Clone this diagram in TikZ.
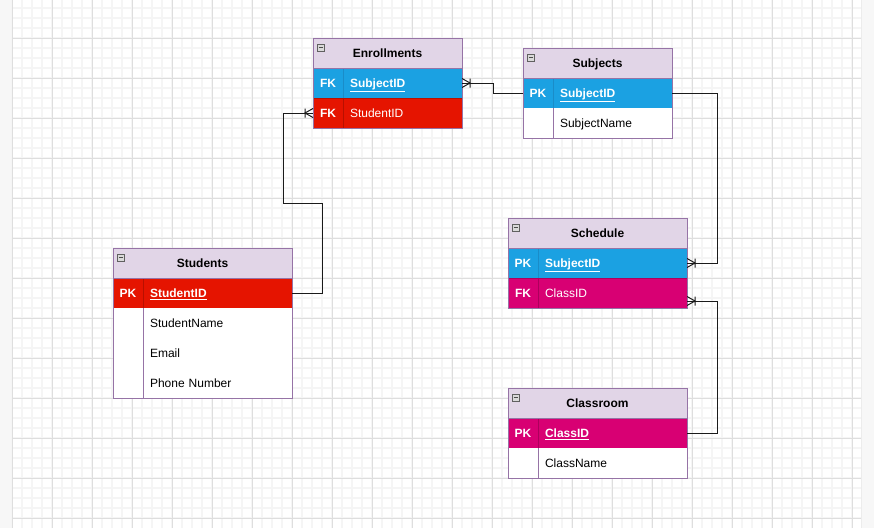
\documentclass[tikz,border=0pt]{standalone}
\usepackage{fontspec}
\setmainfont{Liberation Sans}
\usetikzlibrary{arrows.meta}
\definecolor{hdrfill}{HTML}{E1D5E7}
\definecolor{bdr}{HTML}{9673A6}
\definecolor{blueF}{HTML}{1BA1E2}
\definecolor{blueD}{HTML}{1A8CC8}
\definecolor{redF}{HTML}{E51400}
\definecolor{redD}{HTML}{B81000}
\definecolor{magF}{HTML}{D80073}
\definecolor{magD}{HTML}{AD005C}
\definecolor{gridminor}{HTML}{F5F5F5}
\definecolor{gridmajor}{HTML}{DEDEDE}
\definecolor{outside}{HTML}{F7F7F7}
\definecolor{linec}{HTML}{1A1A1A}
\pgfdeclarearrow{
  name = CrowBar,
  setup code = {
    \pgfarrowssettipend{0pt}
    \pgfarrowssetlineend{0pt}
    \pgfarrowssetbackend{-9pt}
    \pgfarrowssetvisualbackend{-9pt}
    \pgfarrowshullpoint{0pt}{5pt}
    \pgfarrowshullpoint{0pt}{-5pt}
    \pgfarrowshullpoint{-9pt}{0pt}
  },
  drawing code = {
    \pgfsetdash{}{0pt}
    \pgfpathmoveto{\pgfpoint{0pt}{4.5pt}}
    \pgfpathlineto{\pgfpoint{-8pt}{0pt}}
    \pgfpathlineto{\pgfpoint{0pt}{-4.5pt}}
    \pgfpathmoveto{\pgfpoint{-8pt}{4.5pt}}
    \pgfpathlineto{\pgfpoint{-8pt}{-4.5pt}}
    \pgfusepathqstroke
  }
}
\tikzset{
  cell/.style={rectangle, anchor=north west, minimum height=30pt, inner sep=0pt, outer sep=0pt, line width=1pt, text height=8.6pt, text depth=0pt, font=\fontsize{12}{14}\selectfont},
  hdr/.style={cell, draw=bdr, fill=hdrfill, font=\fontsize{12}{14}\selectfont\bfseries},
  keyc/.style={cell, minimum width=30pt, font=\fontsize{12}{14}\selectfont\bfseries},
  namec/.style={cell, inner xsep=7pt, text width=#1, align=left},
  bluerow/.style={fill=blueF, draw=blueD, text=white},
  redrow/.style={fill=redF, draw=redD, text=white},
  magrow/.style={fill=magF, draw=magD, text=white},
  plain/.style={fill=white, text=black},
  border/.style={draw=bdr, line width=1pt},
  minusbox/.style={rectangle, anchor=north west, minimum size=7pt, inner sep=0pt, xshift=4pt, yshift=-6pt, fill=gray!30, draw=gray!75!black, line width=0.6pt,
    path picture={\draw[black!70, line width=0.8pt] ([xshift=1.5pt]path picture bounding box.west) -- ([xshift=-1.5pt]path picture bounding box.east);}},
  rel/.style={draw=linec, line width=1pt, -CrowBar}
}
\begin{document}
\begin{tikzpicture}[x=1pt,y=-1pt]
\useasboundingbox (0,0) rectangle (874,528);
% background and grid
\fill[outside] (0,0) rectangle (874,528);
\fill[white] (12,0) rectangle (861,528);
\foreach \x in {12,22,...,852} \draw[gridminor, line width=1.2pt] (\x,0) -- (\x,528);
\foreach \y in {8,18,...,518} \draw[gridminor, line width=1.2pt] (12,\y) -- (861,\y);
\foreach \x in {12,52,...,852} \draw[gridmajor, line width=0.8pt] (\x,0) -- (\x,528);
\foreach \y in {38,78,...,518} \draw[gridmajor, line width=0.8pt] (12,\y) -- (861,\y);
\draw[gray!15, line width=1pt] (861.5,0) -- (861.5,528);

% ---------- Enrollments ----------
\node[hdr, minimum width=149pt] (enr) at (313,38) {Enrollments};
\node[keyc, bluerow] (enr1k) at (313,68) {FK};
\node[namec=105pt, bluerow, font=\fontsize{12}{14}\selectfont\bfseries] (enr1n) at (343,68) {\underline{SubjectID}};
\node[keyc, redrow] (enr2k) at (313,98) {FK};
\node[namec=105pt, redrow] (enr2n) at (343,98) {StudentID};
\draw[border] (enr.north west) rectangle (enr2n.south east);
\draw[border] (enr.south west) -- (enr.south east);
\node[minusbox] at (enr.north west) {};

% ---------- Subjects ----------
\node[hdr, minimum width=149pt] (sub) at (523,48) {Subjects};
\node[keyc, bluerow] (sub1k) at (523,78) {PK};
\node[namec=105pt, bluerow, font=\fontsize{12}{14}\selectfont\bfseries] (sub1n) at (553,78) {\underline{SubjectID}};
\node[keyc, plain] (sub2k) at (523,108) {};
\node[namec=105pt, plain] (sub2n) at (553,108) {SubjectName};
\draw[border] (sub2k.north east) -- (sub2k.south east);
\draw[border] (sub.north west) rectangle (sub2n.south east);
\draw[border] (sub.south west) -- (sub.south east);
\node[minusbox] at (sub.north west) {};

% ---------- Students ----------
\node[hdr, minimum width=179pt] (stu) at (113,248) {Students};
\node[keyc, redrow] (stu1k) at (113,278) {PK};
\node[namec=135pt, redrow, font=\fontsize{12}{14}\selectfont\bfseries] (stu1n) at (143,278) {\underline{StudentID}};
\node[keyc, plain] (stu2k) at (113,308) {};
\node[namec=135pt, plain] (stu2n) at (143,308) {StudentName};
\node[keyc, plain] (stu3k) at (113,338) {};
\node[namec=135pt, plain] (stu3n) at (143,338) {Email};
\node[keyc, plain] (stu4k) at (113,368) {};
\node[namec=135pt, plain] (stu4n) at (143,368) {Phone Number};
\draw[border] (stu2k.north east) -- (stu4k.south east);
\draw[border] (stu.north west) rectangle (stu4n.south east);
\draw[border] (stu.south west) -- (stu.south east);
\node[minusbox] at (stu.north west) {};

% ---------- Schedule ----------
\node[hdr, minimum width=179pt] (sch) at (508,218) {Schedule};
\node[keyc, bluerow] (sch1k) at (508,248) {PK};
\node[namec=135pt, bluerow, font=\fontsize{12}{14}\selectfont\bfseries] (sch1n) at (538,248) {\underline{SubjectID}};
\node[keyc, magrow] (sch2k) at (508,278) {FK};
\node[namec=135pt, magrow] (sch2n) at (538,278) {ClassID};
\draw[border] (sch.north west) rectangle (sch2n.south east);
\draw[border] (sch.south west) -- (sch.south east);
\node[minusbox] at (sch.north west) {};

% ---------- Classroom ----------
\node[hdr, minimum width=179pt] (cls) at (508,388) {Classroom};
\node[keyc, magrow] (cls1k) at (508,418) {PK};
\node[namec=135pt, magrow, font=\fontsize{12}{14}\selectfont\bfseries] (cls1n) at (538,418) {\underline{ClassID}};
\node[keyc, plain] (cls2k) at (508,448) {};
\node[namec=135pt, plain] (cls2n) at (538,448) {ClassName};
\draw[border] (cls2k.north east) -- (cls2k.south east);
\draw[border] (cls.north west) rectangle (cls2n.south east);
\draw[border] (cls.south west) -- (cls.south east);
\node[minusbox] at (cls.north west) {};

% ---------- Relationships ----------
\coordinate (a1) at (322,203);
\coordinate (a2) at (283,203);
\draw[rel] (stu1n.east) -| (a1) -- (a2) |- (enr2k.west);
\coordinate (b1) at (493,93);
\draw[rel] (sub1k.west) -- (b1) |- (enr1n.east);
\coordinate (c1) at (717,93);
\draw[rel] (sub1n.east) -- (c1) |- (sch1n.east);
\coordinate (d1) at (717,433);
\draw[rel] (cls1n.east) -- (d1) |- ([yshift=-8pt]sch2n.east);
\end{tikzpicture}
\end{document}
